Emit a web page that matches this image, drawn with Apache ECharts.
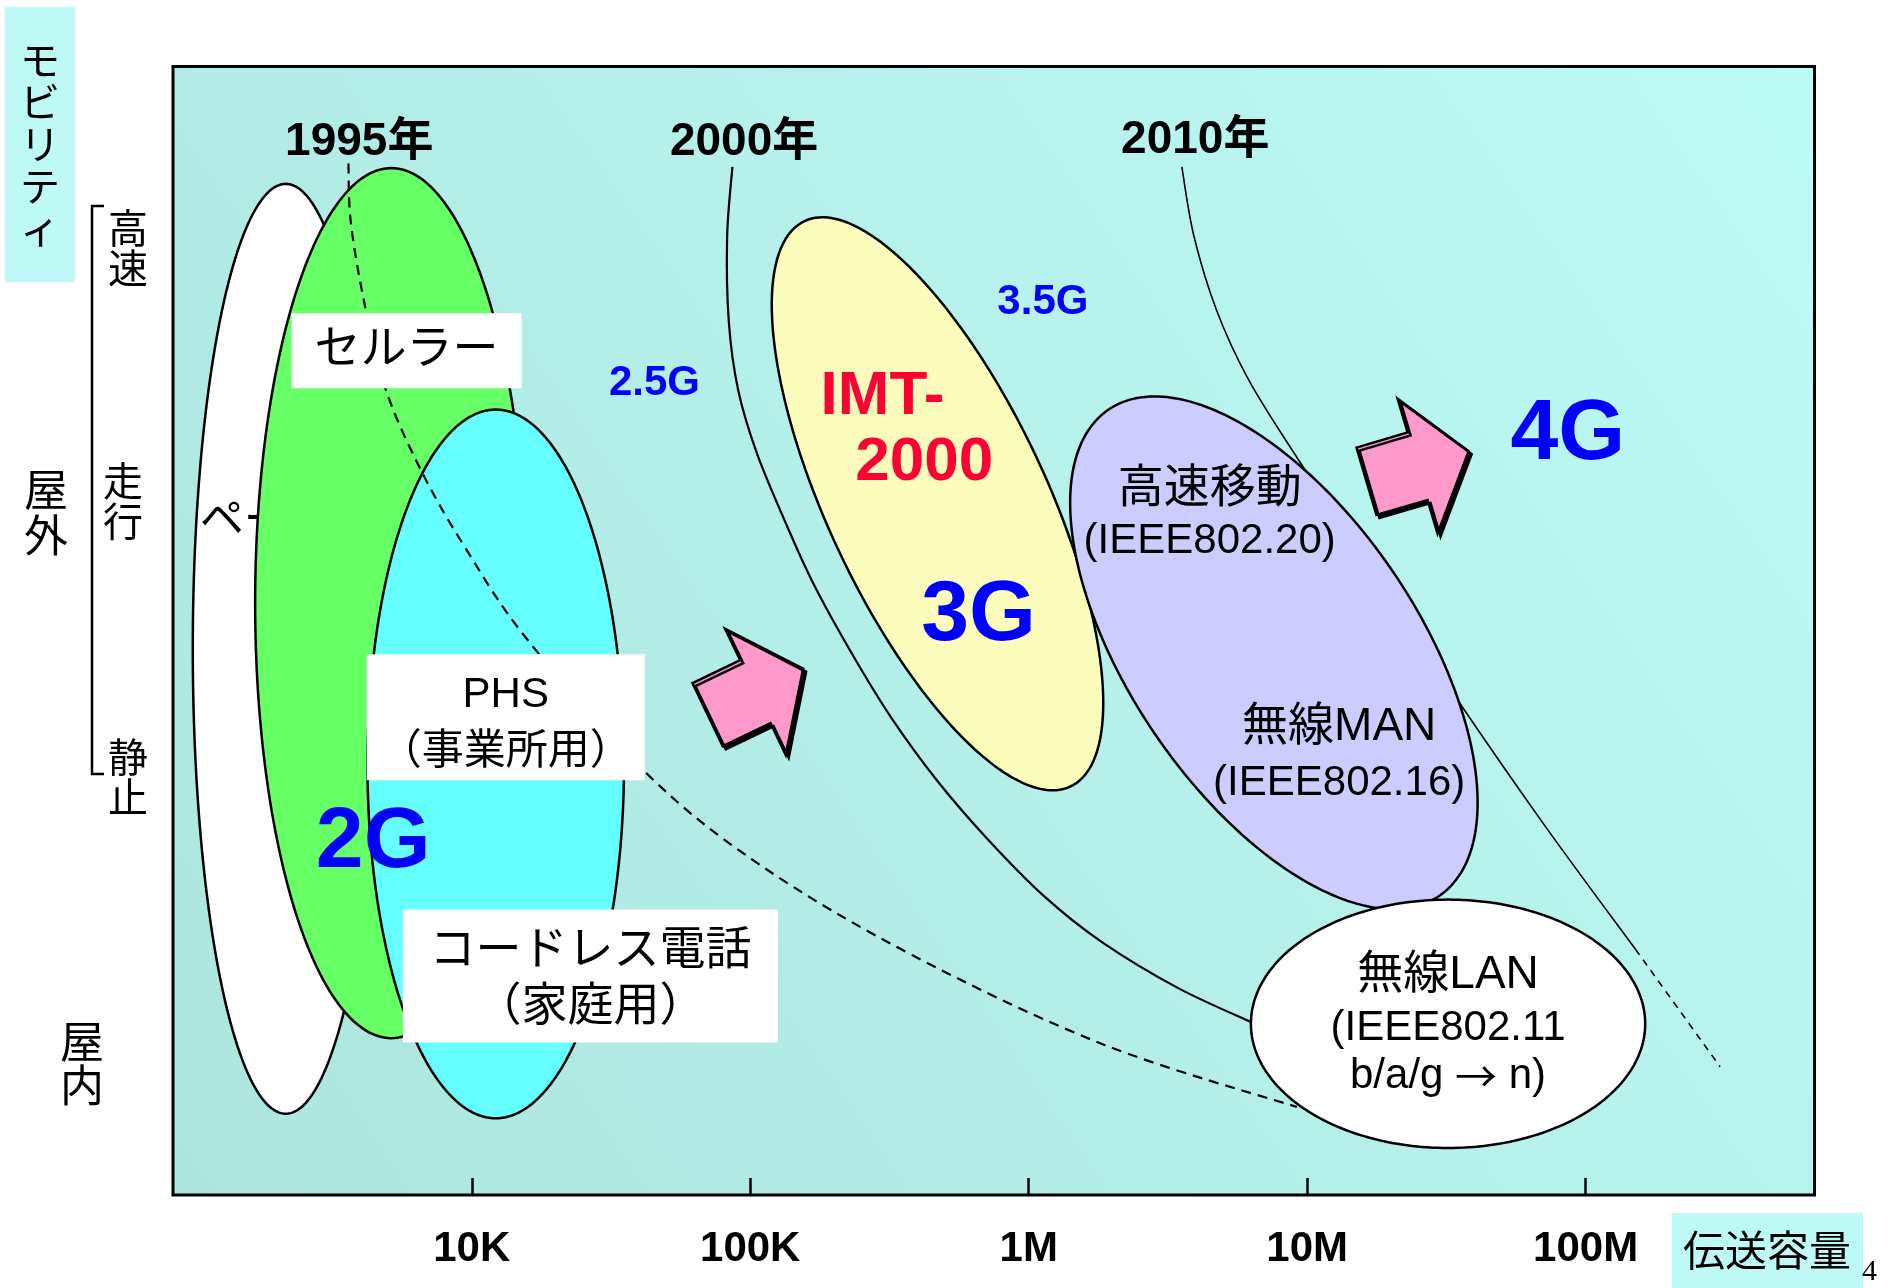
<!DOCTYPE html>
<html><head><meta charset="utf-8">
<script src="https://cdn.jsdelivr.net/npm/echarts@6/dist/echarts.min.js"></script>
<style>html,body{margin:0;padding:0;background:#fff}#c{width:1896px;height:1288px}</style>
</head><body><div id="c"></div>
<script>
// x = log10(transmission capacity, bit/s), y = mobility (0 = indoor/static, 100 = high speed)
const xTickValues = [4, 5, 6, 7, 8];
const xTickLabels = ['10K', '100K', '1M', '10M', '100M'];
const xRange = [2.927, 8.822];
const yRange = [0, 100];

// regions (ellipses): major-axis end points and minor/major ratio
const regionNames = ['pager', 'cellular', 'phs', 'imt2000', 'wman', 'wlan'];
const regionAxisStart = [[3.332, 89.6], [3.711, 91.0], [4.086, 69.6], [5.195, 86.3], [6.287, 69.6], [6.798, 15.17]];
const regionAxisEnd = [[3.332, 7.2], [3.711, 13.9], [4.086, 6.8], [6.150, 36.2], [7.474, 26.5], [8.214, 15.17]];
const regionAspect = [0.2, 0.313, 0.362, 0.35, 0.49, 0.63];

// generation boundary curves
const line1995 = [[3.557, 91.4], [3.566, 86.07], [3.618, 78.6], [3.692, 71.3], [3.818, 64.2], [3.974, 57.46], [4.200, 49.2], [4.630, 37.3], [5.038, 29.2], [5.586, 21.2], [6.272, 13.3], [6.963, 7.8]];
const line2000 = [[4.936, 91.11], [4.917, 84.89], [4.923, 77.39], [4.957, 71.28], [5.025, 65.65], [5.136, 59.06], [5.232, 53.92], [5.369, 47.81], [5.508, 42.24], [5.673, 36.66], [5.851, 31.57], [6.055, 26.48], [6.263, 22.41], [6.537, 18.33], [6.798, 15.33]];
const line2010 = [[6.550, 91.11], [6.593, 85.00], [6.675, 78.38], [6.789, 72.27], [6.954, 65.71], [7.258, 54.45], [7.514, 44.81], [7.845, 33.02], [8.179, 21.77]];
const line2010Ext = [[8.179, 21.77], [8.483, 11.37]];

// evolution arrows: tail and tip
const arrowTail = [[4.847, 42.56], [7.213, 63.24]];
const arrowTip = [[5.190, 46.63], [7.580, 65.92]];

// labels
const yearTexts = ['1995年', '2000年', '2010年'];
const yearPos = [[3.596, 93.25], [4.978, 93.25], [6.598, 93.47]];
const genTexts = ['2G', '3G', '4G'];
const genPos = [[3.646, 31.2], [5.820, 51.24], [7.936, 67.3]];
const subGenTexts = ['2.5G', '3.5G'];
const subGenPos = [[4.656, 71.9], [6.051, 79.1]];
const imtTexts = ['IMT-', '2000'];
const imtPos = [[5.475, 70.74], [5.625, 64.85]];
const boxTexts = ['セルラー', 'PHS\n（事業所用）', 'コードレス電話\n（家庭用）'];
const boxCenter = [[3.766, 74.82], [4.122, 42.34], [4.426, 19.4]];
const boxTextPos = [[3.766, 74.82], [4.122, 41.7], [4.426, 19.08]];
const regionTexts = ['高速移動', '(IEEE802.20)', '無線MAN', '(IEEE802.16)', '無線LAN', '(IEEE802.11', 'b/a/g {a|→} n)'];
const regionTextPos = [[6.650, 62.5], [6.650, 57.9], [7.115, 41.4], [7.115, 36.45], [7.506, 19.5], [7.506, 14.8], [7.506, 10.5]];
const pagerTexts = ['ページャー'];
const pagerPos = [[3.021, 60.05]];

const FONT = "'Liberation Sans','Noto Sans CJK JP',sans-serif";
const JFONT = "'Noto Sans CJK JP','Liberation Sans',sans-serif";
const boxSizes = [[230, 75], [278, 126], [375, 133]];

function ellipseSeries(i, fill, z) {
  return {
    type: 'custom', z: z, silent: true, name: regionNames[i],
    data: [[regionAxisStart[i][0], regionAxisStart[i][1], regionAxisEnd[i][0], regionAxisEnd[i][1], regionAspect[i]]],
    renderItem: function (params, api) {
      const p1 = api.coord([api.value(0), api.value(1)]);
      const p2 = api.coord([api.value(2), api.value(3)]);
      const r = api.value(4);
      const cx = (p1[0] + p2[0]) / 2, cy = (p1[1] + p2[1]) / 2;
      const dx = p2[0] - p1[0], dy = p2[1] - p1[1];
      const a = Math.hypot(dx, dy) / 2, ux = dx / (2 * a), uy = dy / (2 * a), b = a * r;
      const pts = [];
      for (let k = 0; k < 240; k++) {
        const t = k / 240 * 2 * Math.PI;
        const c = Math.cos(t) * a, s = Math.sin(t) * b;
        pts.push([cx + c * ux - s * uy, cy + c * uy + s * ux]);
      }
      return { type: 'polygon', shape: { points: pts }, style: { fill: fill, stroke: '#000', lineWidth: 2.5 } };
    }
  };
}

function arrowSeries(i) {
  return {
    type: 'custom', z: 6, silent: true,
    data: [[arrowTail[i][0], arrowTail[i][1], arrowTip[i][0], arrowTip[i][1]]],
    renderItem: function (params, api) {
      const T = api.coord([api.value(0), api.value(1)]);
      const P = api.coord([api.value(2), api.value(3)]);
      const dx = P[0] - T[0], dy = P[1] - T[1];
      const L = Math.hypot(dx, dy), ux = dx / L, uy = dy / L, vx = -uy, vy = ux;
      const sw = 0.33 * L, hw = 0.66 * L, nk = 0.5 * L;
      const pt = (al, sd) => [T[0] + ux * al + vx * sd, T[1] + uy * al + vy * sd];
      const pts = [pt(0, -sw), pt(nk, -sw), pt(nk, -hw), pt(L, 0), pt(nk, hw), pt(nk, sw), pt(0, sw)];
      return {
        type: 'polygon', shape: { points: pts },
        style: { fill: '#ff99cc', stroke: '#000', lineWidth: 2.5, shadowColor: '#000', shadowOffsetX: 3, shadowOffsetY: 3, shadowBlur: 0 }
      };
    }
  };
}

function boxSeries() {
  return {
    type: 'custom', z: 7, silent: true,
    data: boxCenter.map(p => [p[0], p[1]]),
    renderItem: function (params, api) {
      const c = api.coord([api.value(0), api.value(1)]);
      const s = boxSizes[params.dataIndex];
      return { type: 'rect', shape: { x: c[0] - s[0] / 2, y: c[1] - s[1] / 2, width: s[0], height: s[1] }, style: { fill: '#ffffff' } };
    }
  };
}

// smooth curve through the points (Catmull-Rom), positioned through the axes
function curveSeries(points, z, width, dash) {
  return {
    type: 'custom', z: z, silent: true, data: points.map(p => [p[0], p[1]]),
    renderItem: function (params, api) {
      if (params.dataIndex !== 0) return null;
      const P = points.map(p => api.coord(p));
      let d = 'M' + P[0][0] + ',' + P[0][1];
      for (let i = 0; i < P.length - 1; i++) {
        const p0 = P[Math.max(i - 1, 0)], p1 = P[i], p2 = P[i + 1], p3 = P[Math.min(i + 2, P.length - 1)];
        const c1 = [p1[0] + (p2[0] - p0[0]) / 6, p1[1] + (p2[1] - p0[1]) / 6];
        const c2 = [p2[0] - (p3[0] - p1[0]) / 6, p2[1] - (p3[1] - p1[1]) / 6];
        d += ' C' + c1[0] + ',' + c1[1] + ' ' + c2[0] + ',' + c2[1] + ' ' + p2[0] + ',' + p2[1];
      }
      return { type: 'path', shape: { pathData: d }, style: { fill: 'none', stroke: '#000', lineWidth: width, lineDash: dash } };
    }
  };
}

function labelSeries(texts, pos, label, z, perItem) {
  return {
    type: 'scatter', z: z, silent: true, symbolSize: 1, itemStyle: { color: 'rgba(0,0,0,0)', opacity: 1 },
    data: texts.map((t, i) => ({ value: pos[i], label: Object.assign({ formatter: t }, perItem ? perItem[i] : {}) })),
    label: Object.assign({ show: true, position: 'inside', color: '#000', opacity: 1, fontFamily: FONT }, label)
  };
}

const chart = echarts.init(document.getElementById('c'));
chart.setOption({
  animation: false,
  backgroundColor: '#fff',
  grid: {
    left: 173, top: 66.5, width: 1641.5, height: 1128.5, show: true, outerBoundsMode: 'none',
    backgroundColor: { type: 'linear', x: 0, y: 1, x2: 1, y2: 0, colorStops: [{ offset: 0, color: '#ade4de' }, { offset: 1, color: '#bdfbf6' }] },
    borderColor: '#000', borderWidth: 3
  },
  xAxis: {
    type: 'value', min: xRange[0], max: xRange[1],
    axisLine: { show: false }, splitLine: { show: false },
    axisTick: { show: true, inside: true, length: 17, lineStyle: { color: '#000', width: 2.5 }, customValues: xTickValues },
    axisLabel: {
      show: true, customValues: xTickValues, margin: 33,
      formatter: v => xTickLabels[xTickValues.indexOf(Math.round(v))],
      fontSize: 42, fontWeight: 'bold', color: '#000', fontFamily: FONT
    }
  },
  yAxis: { type: 'value', min: yRange[0], max: yRange[1], show: false },
  series: [
    ellipseSeries(0, '#ffffff', 1),
    labelSeries(pagerTexts, pagerPos, { position: 'right', distance: 0, fontSize: 44, fontFamily: JFONT }, 2),
    curveSeries(line2000, 2, 2.2, null),
    curveSeries(line2010, 2, 1.6, null),
    curveSeries(line2010Ext, 2, 1.6, [7, 6]),
    ellipseSeries(1, '#66ff66', 3),
    ellipseSeries(2, '#66ffff', 4),
    ellipseSeries(3, '#fcfdbd', 4),
    curveSeries(line1995, 5, 2.2, [10, 7]),
    ellipseSeries(4, '#ccccff', 5),
    ellipseSeries(5, '#ffffff', 5),
    arrowSeries(0),
    arrowSeries(1),
    boxSeries(),
    labelSeries(boxTexts, boxTextPos, { fontFamily: FONT, align: 'center' }, 8, [
      { fontSize: 46, lineHeight: 46 },
      { fontSize: 42, lineHeight: 57 },
      { fontSize: 46, lineHeight: 56 }
    ]),
    labelSeries(regionTexts, regionTextPos, { rich: { a: { fontSize: 42, fontFamily: "'Noto Sans CJK JP',sans-serif", color: '#000' } } }, 8, [
      { fontSize: 46 }, { fontSize: 42 }, { fontSize: 46 }, { fontSize: 42 }, { fontSize: 46 }, { fontSize: 42 }, { fontSize: 42 }
    ]),
    labelSeries(yearTexts, yearPos, { fontSize: 46, fontWeight: 'bold' }, 8),
    labelSeries(subGenTexts, subGenPos, { fontSize: 42, fontWeight: 'bold', color: '#0000ff' }, 8),
    labelSeries(imtTexts, imtPos, { fontSize: 62, fontWeight: 'bold', color: '#ff0033' }, 8),
    labelSeries(genTexts, genPos, { fontSize: 86, fontWeight: 'bold', color: '#0000ff' }, 9)
  ],
  graphic: [
    { type: 'rect', shape: { x: 5, y: 7, width: 70, height: 275 }, style: { fill: '#bdfaf5' } },
    { type: 'text', x: 40, y: 39, style: { text: 'モ\nビ\nリ\nテ\nィ', fontSize: 40, fontFamily: JFONT, lineHeight: 42, fill: '#000', align: 'center', verticalAlign: 'top' } },
    { type: 'text', x: 46, y: 466, style: { text: '屋\n外', fontSize: 44, fontFamily: JFONT, lineHeight: 46, fill: '#000', align: 'center', verticalAlign: 'top' } },
    { type: 'text', x: 82, y: 1019, style: { text: '屋\n内', fontSize: 44, fontFamily: JFONT, lineHeight: 44, fill: '#000', align: 'center', verticalAlign: 'top' } },
    { type: 'polyline', shape: { points: [[104, 206], [92, 206], [92, 774], [104, 774]] }, style: { stroke: '#000', lineWidth: 2.5, fill: null } },
    { type: 'text', x: 128, y: 208, style: { text: '高\n速', fontSize: 40, fontFamily: JFONT, lineHeight: 40, fill: '#000', align: 'center', verticalAlign: 'top' } },
    { type: 'text', x: 123, y: 461, style: { text: '走\n行', fontSize: 40, fontFamily: JFONT, lineHeight: 40, fill: '#000', align: 'center', verticalAlign: 'top' } },
    { type: 'text', x: 128, y: 737, style: { text: '静\n止', fontSize: 40, fontFamily: JFONT, lineHeight: 40, fill: '#000', align: 'center', verticalAlign: 'top' } },
    { type: 'rect', shape: { x: 1672, y: 1213, width: 191, height: 75 }, style: { fill: '#bdfaf5' } },
    { type: 'text', x: 1767, y: 1250, style: { text: '伝送容量', fontSize: 42, fontFamily: JFONT, fill: '#000', align: 'center', verticalAlign: 'middle' } },
    { type: 'text', x: 1862, y: 1287, style: { text: '4', fontSize: 30, fontFamily: "'Liberation Serif','DejaVu Serif',serif", fill: '#000', align: 'left', verticalAlign: 'bottom' } }
  ]
});
</script>
</body></html>
